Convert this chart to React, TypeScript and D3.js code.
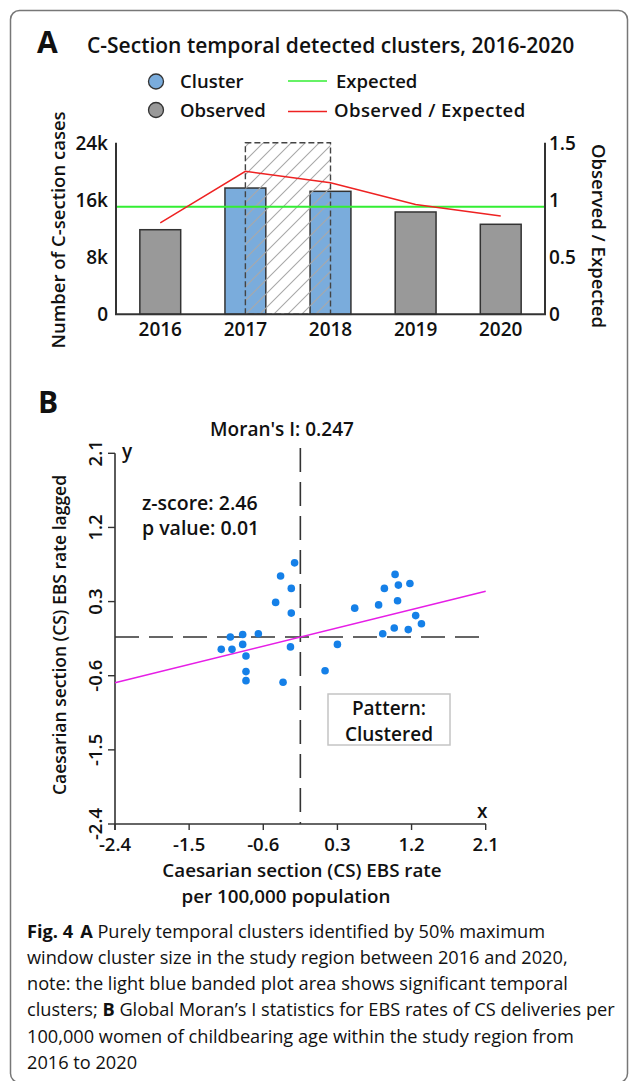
import React from "react";
import * as d3 from "d3";

// Panel A: temporal clusters
const years = ["2016", "2017", "2018", "2019", "2020"];
const observedCases = [11830, 17660, 17200, 14310, 12590];
const expectedCases = 15050;
const observedExpected = [0.8, 1.25, 1.15, 0.96, 0.86];
const clusterYears = ["2017", "2018"];
const caseTicks = [0, 8000, 16000, 24000];
const caseTickLabels = ["0", "8k", "16k", "24k"];
const ratioTicks = [0, 0.5, 1, 1.5];
const ratioTickLabels = ["0", "0.5", "1", "1.5"];

// Panel B: Moran scatter
const csRate = [
  -0.22, -0.39, -0.26, -0.45, -0.26, 1.0, 0.87, 1.04, 1.18, 1.03, 0.8, 0.51, 1.25, 1.32, 0.99,
  1.16, 0.85, -1.0, -0.85, -0.66, -1.11, -0.98, -0.85, -0.81, -0.27, 0.3, -0.81, -0.81, -0.36, 0.15,
];
const csRateLagged = [
  0.77, 0.61, 0.46, 0.29, 0.16, 0.63, 0.46, 0.5, 0.52, 0.31, 0.26, 0.22, 0.13, 0.03, -0.02,
  -0.04, -0.09, -0.13, -0.1, -0.09, -0.28, -0.28, -0.22, -0.36, -0.25, -0.22, -0.55, -0.66, -0.68, -0.54,
];
const moranTicks = [-2.4, -1.5, -0.6, 0.3, 1.2, 2.1];
const moranI = 0.247;
const zScore = 2.46;
const pValue = 0.01;
const meanRate = -0.15;
const meanLagged = -0.13;

const FONT = "'Open Sans', 'Noto Sans', sans-serif";
const AXIS = "#333";

const App = () => {
  // ---- panel A scales
  const x = d3.scaleBand().domain(years).range([116, 545]).paddingInner(0.52).paddingOuter(0.28);
  const yCases = d3.scaleLinear().domain([0, 24000]).range([314.3, 142.7]);
  const yRatio = d3.scaleLinear().domain([0, 1.5]).range([314.3, 142.7]);
  const bw = x.bandwidth();
  const mid = (d) => (x(d) as number) + bw / 2;

  const ratioLine = d3
    .line<number>()
    .x((_, i) => mid(years[i]))
    .y((d) => yRatio(d));

  const hatchX0 = mid(clusterYears[0]);
  const hatchX1 = mid(clusterYears[clusterYears.length - 1]);

  // ---- panel B scales
  const xs = d3.scaleLinear().domain([-2.4, 2.1]).range([115, 485.7]);
  const ys = d3.scaleLinear().domain([-2.4, 2.1]).range([824, 453.3]);
  const fit = (v) => meanLagged + moranI * (v - meanRate);

  const txt = { fontFamily: FONT, fontWeight: 600, fill: "#111" } as const;

  return (
    <svg
      width={629}
      height={1081}
      style={{ position: "absolute", left: 0, top: 0, background: "#fff" }}
    >
      <defs>
        <pattern id="hatch" patternUnits="userSpaceOnUse" width={14} height={14}>
          <path d="M0,14 L14,0 M-3.5,3.5 L3.5,-3.5 M10.5,17.5 L17.5,10.5" stroke="#a8a8a8" strokeWidth={1.1} />
        </pattern>
      </defs>

      <rect x={10.5} y={10.5} width={617} height={1072} rx={9} fill="none" stroke="#777" strokeWidth={1.5} />

      {/* ================= Panel A ================= */}
      <text x={37} y={53} style={{ ...txt, fontWeight: 700, fontSize: 30 }}>A</text>
      <text x={87} y={53} style={{ ...txt, fontSize: 21 }}>
        C-Section temporal detected clusters, 2016-2020
      </text>

      {/* legend */}
      <circle cx={156} cy={81.5} r={7.5} fill="#7aacdc" stroke="#333" strokeWidth={1.3} />
      <text x={180} y={88} style={{ ...txt, fontSize: 18.5 }}>Cluster</text>
      <circle cx={156} cy={110} r={7.5} fill="#999" stroke="#333" strokeWidth={1.3} />
      <text x={180} y={116.5} style={{ ...txt, fontSize: 18.5 }}>Observed</text>
      <line x1={288} x2={327} y1={81} y2={81} stroke="#33ee33" strokeWidth={1.5} />
      <text x={336} y={88} style={{ ...txt, fontSize: 18.5 }}>Expected</text>
      <line x1={288} x2={327} y1={111.5} y2={111.5} stroke="#ee2222" strokeWidth={1.5} />
      <text x={334} y={116.5} style={{ ...txt, fontSize: 18.5, letterSpacing: 0.4 }}>Observed / Expected</text>

      {/* bars */}
      {years.map((yr, i) => (
        <rect
          key={yr}
          x={x(yr)}
          y={yCases(observedCases[i])}
          width={bw}
          height={yCases(0) - yCases(observedCases[i])}
          fill={clusterYears.includes(yr) ? "#7aacdc" : "#999"}
          stroke="#333"
          strokeWidth={1.5}
        />
      ))}

      {/* cluster band */}
      <rect
        x={hatchX0}
        y={yCases(24000)}
        width={hatchX1 - hatchX0}
        height={yCases(0) - yCases(24000)}
        fill="url(#hatch)"
        stroke="#444"
        strokeWidth={1.4}
        strokeDasharray="6 3"
      />

      {/* expected + ratio lines */}
      <line x1={116} x2={545} y1={yCases(expectedCases)} y2={yCases(expectedCases)} stroke="#33ee33" strokeWidth={2} />
      <path d={ratioLine(observedExpected) as string} fill="none" stroke="#ee2222" strokeWidth={1.5} />

      {/* axes */}
      <line x1={116} x2={116} y1={142.7} y2={315} stroke={AXIS} strokeWidth={2} />
      <line x1={545} x2={545} y1={142.7} y2={315} stroke={AXIS} strokeWidth={2} />
      <line x1={115} x2={546} y1={314.3} y2={314.3} stroke={AXIS} strokeWidth={2} />
      {caseTicks.map((t, i) => (
        <text key={t} x={108} y={yCases(t)} dy="0.36em" textAnchor="end" style={{ ...txt, fontSize: 19 }}>
          {caseTickLabels[i]}
        </text>
      ))}
      {ratioTicks.map((t, i) => (
        <text key={t} x={549} y={yRatio(t)} dy="0.36em" style={{ ...txt, fontSize: 19 }}>
          {ratioTickLabels[i]}
        </text>
      ))}
      {years.map((yr) => (
        <text key={yr} x={mid(yr)} y={336} textAnchor="middle" style={{ ...txt, fontSize: 19 }}>
          {yr}
        </text>
      ))}
      <text transform="translate(58,230) rotate(-90)" dy="0.36em" textAnchor="middle" style={{ ...txt, fontSize: 18.5 }}>
        Number of C-section cases
      </text>
      <text transform="translate(599,236) rotate(90)" dy="0.36em" textAnchor="middle" style={{ ...txt, fontSize: 18.5 }}>
        Observed / Expected
      </text>

      {/* ================= Panel B ================= */}
      <text x={38} y={413} style={{ ...txt, fontWeight: 700, fontSize: 30 }}>B</text>
      <text x={282} y={436} textAnchor="middle" style={{ ...txt, fontSize: 19 }}>
        Moran's I: {moranI}
      </text>
      <text x={142} y={510} style={{ ...txt, fontSize: 19.5 }}>z-score: {zScore}</text>
      <text x={142} y={535} style={{ ...txt, fontSize: 19.5 }}>p value: {pValue}</text>

      {/* quadrant lines */}
      <line x1={xs(meanRate)} x2={xs(meanRate)} y1={448} y2={824} stroke={AXIS} strokeWidth={1.6} strokeDasharray="24 10" />
      <line x1={115} x2={486} y1={ys(meanLagged)} y2={ys(meanLagged)} stroke={AXIS} strokeWidth={1.6} strokeDasharray="24 10" />

      {/* axes */}
      <line x1={115} x2={115} y1={ys(2.1)} y2={830} stroke={AXIS} strokeWidth={1.6} />
      <line x1={115} x2={486} y1={824} y2={824} stroke={AXIS} strokeWidth={1.6} />
      {moranTicks.map((t) => (
        <g key={"y" + t}>
          <line x1={108} x2={115} y1={ys(t)} y2={ys(t)} stroke={AXIS} strokeWidth={1.4} />
          <text transform={`translate(95,${ys(t)}) rotate(-90)`} dy="0.36em" textAnchor="middle" style={{ ...txt, fontSize: 18.5 }}>
            {t}
          </text>
        </g>
      ))}
      {moranTicks.map((t) => (
        <g key={"x" + t}>
          <line x1={xs(t)} x2={xs(t)} y1={824} y2={830} stroke={AXIS} strokeWidth={1.4} />
          <text x={xs(t)} y={851} textAnchor="middle" style={{ ...txt, fontSize: 18.5 }}>
            {t}
          </text>
        </g>
      ))}
      <text x={122} y={458} style={{ ...txt, fontSize: 19 }}>y</text>
      <text x={477} y={818} style={{ ...txt, fontSize: 19 }}>x</text>

      {/* regression line */}
      <line x1={xs(-2.4)} x2={xs(2.1)} y1={ys(fit(-2.4))} y2={ys(fit(2.1))} stroke="#e61ee6" strokeWidth={1.6} />

      {/* points */}
      {csRate.map((v, i) => (
        <circle key={i} cx={xs(v)} cy={ys(csRateLagged[i])} r={3.8} fill="#1580e8" />
      ))}

      {/* pattern box */}
      <rect x={328} y={694} width={122} height={51} fill="#fff" stroke="#c4c4c4" strokeWidth={1.5} />
      <text x={389} y={715} textAnchor="middle" style={{ ...txt, fontSize: 19 }}>Pattern:</text>
      <text x={389} y={741} textAnchor="middle" style={{ ...txt, fontSize: 19 }}>Clustered</text>

      <text x={60} y={635} transform="rotate(-90,60,635)" dy="0.36em" textAnchor="middle" style={{ ...txt, fontSize: 17.5 }}>
        Caesarian section (CS) EBS rate lagged
      </text>
      <text x={302} y={877} textAnchor="middle" style={{ ...txt, fontSize: 18.8 }}>
        Caesarian section (CS) EBS rate
      </text>
      <text x={286} y={903} textAnchor="middle" style={{ ...txt, fontSize: 18.8 }}>
        per 100,000 population
      </text>

      {/* caption */}
      <g style={{ fontFamily: FONT, fontSize: 18.2, fill: "#111" }}>
        <text x={27} y={937.5}>
          <tspan fontWeight={700}>Fig. 4</tspan>
          <tspan fontWeight={700} dx={7}>A</tspan>
          <tspan> Purely temporal clusters identified by 50% maximum</tspan>
        </text>
        <text x={27} y={963.8}>window cluster size in the study region between 2016 and 2020,</text>
        <text x={27} y={990.1}>note: the light blue banded plot area shows significant temporal</text>
        <text x={27} y={1016.4}>
          <tspan>clusters; </tspan>
          <tspan fontWeight={700}>B</tspan>
          <tspan> Global Moran’s I statistics for EBS rates of CS deliveries per</tspan>
        </text>
        <text x={27} y={1042.7}>100,000 women of childbearing age within the study region from</text>
        <text x={27} y={1069}>2016 to 2020</text>
      </g>
    </svg>
  );
};

export default App;
